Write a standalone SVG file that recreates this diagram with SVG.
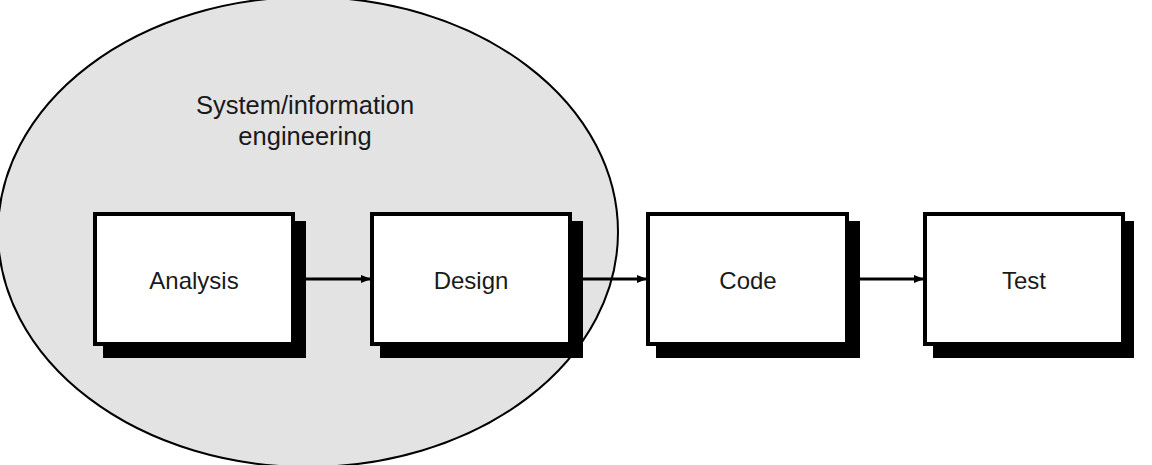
<svg xmlns="http://www.w3.org/2000/svg" width="1152" height="465" viewBox="0 0 1152 465">
<style>
.box{fill:#fff;stroke:#000;stroke-width:4}
.shadow{fill:#000}
.lbl{font-family:"Liberation Sans",Arial,sans-serif;font-size:24px;fill:#1a1a1a;text-anchor:middle}
.big{font-size:25.5px}
.conn{stroke:#000;stroke-width:3;fill:none}
</style>
<defs>
<marker id="ah" markerWidth="10" markerHeight="8" refX="9" refY="4" orient="auto" markerUnits="userSpaceOnUse">
<path d="M0,0 L10,4 L0,8 Z" fill="#000"/>
</marker>
</defs>
<rect width="1152" height="465" fill="#fff"/>
<g id="region">
<ellipse cx="308" cy="232" rx="310" ry="235" fill="#e3e3e3" stroke="#000" stroke-width="2"/>
<text class="lbl big" x="305" y="114">System/information</text>
<text class="lbl big" x="305" y="145">engineering</text>
</g>
<g id="analysis">
<rect class="shadow" x="103" y="221" width="203" height="137"/>
<rect class="box" x="95" y="214" width="198" height="130"/>
<text class="lbl" x="194" y="289">Analysis</text>
</g>
<g id="design">
<rect class="shadow" x="380" y="221" width="203" height="137"/>
<rect class="box" x="372" y="214" width="198" height="130"/>
<text class="lbl" x="471" y="289">Design</text>
</g>
<g id="code">
<rect class="shadow" x="656" y="221" width="204" height="137"/>
<rect class="box" x="648" y="214" width="199" height="130"/>
<text class="lbl" x="748" y="289">Code</text>
</g>
<g id="test">
<rect class="shadow" x="933" y="221" width="201" height="137"/>
<rect class="box" x="925" y="214" width="198" height="130"/>
<text class="lbl" x="1024" y="289">Test</text>
</g>
<g id="connectors">
<line class="conn" x1="306" y1="279" x2="370" y2="279" marker-end="url(#ah)"/>
<line class="conn" x1="583" y1="279" x2="646" y2="279" marker-end="url(#ah)"/>
<line class="conn" x1="860" y1="279" x2="923" y2="279" marker-end="url(#ah)"/>
</g>
</svg>
